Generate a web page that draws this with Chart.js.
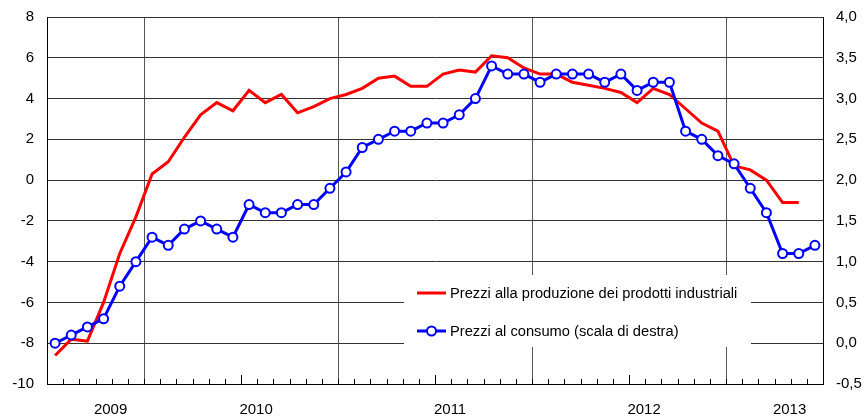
<!DOCTYPE html>
<html>
<head>
<meta charset="utf-8">
<script src="https://cdn.jsdelivr.net/npm/chart.js@4.4.1/dist/chart.umd.min.js"></script>
<style>
  html, body { margin: 0; padding: 0; background: #fff; }
  #wrap { width: 866px; height: 420px; }
</style>
</head>
<body>
<div id="wrap"><canvas id="chart" width="866" height="420"></canvas></div>
<script>
// months from Jul 2009 to Jun 2013
const months = [
  '2009-07','2009-08','2009-09','2009-10','2009-11','2009-12',
  '2010-01','2010-02','2010-03','2010-04','2010-05','2010-06',
  '2010-07','2010-08','2010-09','2010-10','2010-11','2010-12',
  '2011-01','2011-02','2011-03','2011-04','2011-05','2011-06',
  '2011-07','2011-08','2011-09','2011-10','2011-11','2011-12',
  '2012-01','2012-02','2012-03','2012-04','2012-05','2012-06',
  '2012-07','2012-08','2012-09','2012-10','2012-11','2012-12',
  '2013-01','2013-02','2013-03','2013-04','2013-05','2013-06'
];

// year labels and the month they sit next to
const yearLabels = ['2009', '2010', '2011', '2012', '2013'];
const yearLabelMonths = ['2009-10', '2010-07', '2011-07', '2012-07', '2013-04'];

// producer prices (left scale)
const producerPrices = [
  -8.6, -7.8, -7.9, -6.0, -3.6, -1.8, 0.3, 0.9, 2.1, 3.2, 3.8, 3.4,
  4.4, 3.8, 4.2, 3.3, 3.6, 4.0, 4.2, 4.5, 5.0, 5.1, 4.6, 4.6,
  5.2, 5.4, 5.3, 6.1, 6.0, 5.5, 5.2, 5.2, 4.8, 4.65, 4.5, 4.3,
  3.8, 4.5, 4.2, 3.5, 2.8, 2.4, 0.7, 0.5, 0.0, -1.1, -1.1, null
];

// consumer prices (right scale)
const consumerPrices = [
  0.0, 0.1, 0.2, 0.3, 0.7, 1.0, 1.3, 1.2, 1.4, 1.5, 1.4, 1.3,
  1.7, 1.6, 1.6, 1.7, 1.7, 1.9, 2.1, 2.4, 2.5, 2.6, 2.6, 2.7,
  2.7, 2.8, 3.0, 3.4, 3.3, 3.3, 3.2, 3.3, 3.3, 3.3, 3.2, 3.3,
  3.1, 3.2, 3.2, 2.6, 2.5, 2.3, 2.2, 1.9, 1.6, 1.1, 1.1, 1.2
];

const seriesNames = [
  'Prezzi alla produzione dei prodotti industriali',
  'Prezzi al consumo (scala di destra)'
];

const FONT = '"Liberation Sans", Arial, sans-serif';
const RED = '#ff0000';
const BLUE = '#0000ff';

// small month ticks along the bottom axis, inside the plot
const monthTicks = {
  id: 'monthTicks',
  afterDraw(chart) {
    const x = chart.scales.x;
    const ctx = chart.ctx;
    const bottom = chart.chartArea.bottom;
    ctx.save();
    ctx.strokeStyle = '#000';
    ctx.lineWidth = 1;
    for (let i = 1; i < months.length; i++) {
      const px = Math.round((x.getPixelForValue(i - 1) + x.getPixelForValue(i)) / 2) + 0.5;
      const len = months[i].endsWith('-07') ? 9 : 5;
      ctx.beginPath();
      ctx.moveTo(px, bottom);
      ctx.lineTo(px, bottom - len);
      ctx.stroke();
    }
    ctx.restore();
  }
};

// legend box drawn inside the plot
const boxLegend = {
  id: 'boxLegend',
  afterDatasetsDraw(chart) {
    const ctx = chart.ctx;
    ctx.save();
    ctx.fillStyle = '#fff';
    ctx.fillRect(404, 275, 347, 72);

    ctx.lineWidth = 3;
    ctx.strokeStyle = RED;
    ctx.beginPath();
    ctx.moveTo(417, 293);
    ctx.lineTo(446, 293);
    ctx.stroke();

    ctx.strokeStyle = BLUE;
    ctx.beginPath();
    ctx.moveTo(417, 331);
    ctx.lineTo(446, 331);
    ctx.stroke();
    ctx.lineWidth = 2;
    ctx.fillStyle = '#fff';
    ctx.beginPath();
    ctx.arc(431.5, 331, 4.5, 0, Math.PI * 2);
    ctx.fill();
    ctx.stroke();

    ctx.fillStyle = '#000';
    ctx.font = '14.7px ' + FONT;
    ctx.textBaseline = 'middle';
    ctx.fillText(seriesNames[0], 450, 294);
    ctx.fillText(seriesNames[1], 450, 332);
    ctx.restore();
  }
};

// fixed axis sizes so the plot area sits where the original has it
const fitSide = (w) => (s) => {
  s.width = w;
  s.paddingTop = 17;
  s.paddingBottom = 0;
};

new Chart(document.getElementById('chart'), {
  type: 'line',
  data: {
    labels: months,
    datasets: [
      {
        label: seriesNames[1],
        data: consumerPrices,
        yAxisID: 'y1',
        borderColor: BLUE,
        borderWidth: 3,
        pointRadius: 4.5,
        pointBackgroundColor: '#fff',
        pointBorderColor: BLUE,
        pointBorderWidth: 2,
        tension: 0,
        order: 0
      },
      {
        label: seriesNames[0],
        data: producerPrices,
        yAxisID: 'y',
        borderColor: RED,
        borderWidth: 3,
        pointRadius: 0,
        tension: 0,
        spanGaps: false,
        order: 1
      }
    ]
  },
  options: {
    responsive: false,
    devicePixelRatio: 1,
    animation: false,
    layout: { padding: 0 },
    plugins: {
      legend: { display: false },
      tooltip: { enabled: false }
    },
    scales: {
      x: {
        type: 'category',
        offset: true,
        grid: {
          offset: true,
          drawTicks: false,
          lineWidth: 1,
          color: (c) => {
            const i = c.index;
            if (i === undefined || i === 0) return 'rgba(0,0,0,0)';
            return months[i] && months[i].endsWith('-01') ? '#555' : 'rgba(0,0,0,0)';
          }
        },
        border: { display: true, color: '#000', width: 1 },
        ticks: {
          autoSkip: false,
          maxRotation: 0,
          minRotation: 0,
          labelOffset: 7,
          padding: 17,
          color: '#000',
          font: { family: FONT, size: 15 },
          callback: (v, i) => {
            const k = yearLabelMonths.indexOf(months[i]);
            return k >= 0 ? yearLabels[k] : '';
          }
        },
        afterFit: (s) => { s.height = 36; }
      },
      y: {
        position: 'left',
        min: -10,
        max: 8,
        grid: { color: '#333', lineWidth: 1, drawTicks: false },
        border: { display: true, color: '#000', width: 1 },
        ticks: {
          stepSize: 2,
          padding: 13,
          color: '#000',
          font: { family: FONT, size: 15 }
        },
        afterFit: fitSide(47)
      },
      y1: {
        position: 'right',
        min: -0.5,
        max: 4.0,
        grid: { display: false, drawTicks: false },
        border: { display: true, color: '#000', width: 1 },
        ticks: {
          stepSize: 0.5,
          padding: 13,
          color: '#000',
          font: { family: FONT, size: 15 },
          callback: (v) => v.toFixed(1).replace('.', ',')
        },
        afterFit: fitSide(43)
      }
    }
  },
  plugins: [monthTicks, boxLegend]
});
</script>
</body>
</html>
